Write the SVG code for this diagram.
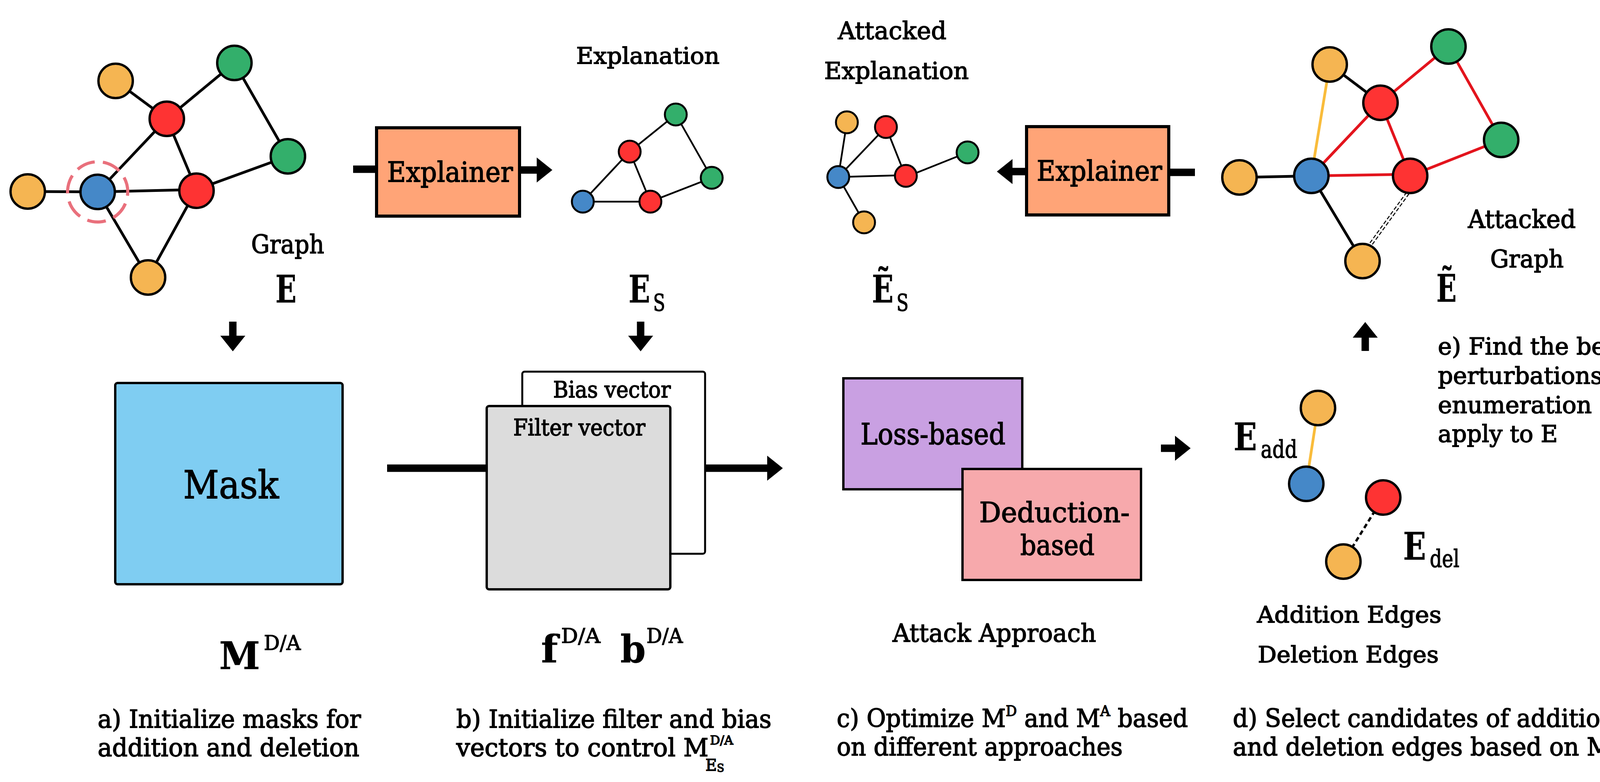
<svg xmlns="http://www.w3.org/2000/svg" width="4241" height="2001" viewBox="0 0 4241 2001">
<defs>
<style>
.t{font-family:"DejaVu Serif","Liberation Serif",serif;fill:#000;stroke:#000;stroke-width:1.8}
.m{font-weight:bold;stroke-width:0.5}
.r{font-weight:normal;stroke-width:1.6}
.n{stroke:#000;stroke-width:6}
.ns{stroke:#000;stroke-width:5}
.or{fill:#F5B552}.rd{fill:#FE3333}.gr{fill:#33AF6B}.bl{fill:#4588C8}
.e{stroke:#000;stroke-width:7;fill:none}
.es{stroke:#000;stroke-width:4.5;fill:none}
.er{stroke:#E3141D;stroke-width:7;fill:none}
.ey{stroke:#F9BC3B;stroke-width:7;fill:none}
.box{stroke:#000;stroke-width:8}
.bx{stroke:#000;stroke-width:6}
.ar{stroke:#000;stroke-width:19;fill:none}
</style>
<marker id="ah" markerUnits="userSpaceOnUse" markerWidth="40" markerHeight="64" refX="0" refY="32" orient="auto" viewBox="0 0 40 64">
<path d="M0,0 L40,32 L0,64 Z" fill="#000"/>
</marker>
</defs>
<rect width="4241" height="2001" fill="#fff"/>

<!-- Graph E -->
<g id="graph">
<line class="e" x1="71" y1="490" x2="250" y2="491"/>
<line class="e" x1="250" y1="491" x2="427" y2="304"/>
<line class="e" x1="250" y1="491" x2="503" y2="485"/>
<line class="e" x1="250" y1="491" x2="379" y2="710"/>
<line class="e" x1="296" y1="207" x2="427" y2="304"/>
<line class="e" x1="427" y1="304" x2="600" y2="161"/>
<line class="e" x1="427" y1="304" x2="503" y2="485"/>
<line class="e" x1="600" y1="161" x2="737" y2="400"/>
<line class="e" x1="737" y1="400" x2="503" y2="485"/>
<line class="e" x1="503" y1="485" x2="379" y2="710"/>
<circle cx="250" cy="491" r="77" fill="none" stroke="#E9707C" stroke-width="8" stroke-dasharray="48 21" transform="rotate(-80 250 491)"/>
<circle class="n or" cx="71" cy="490" r="44"/>
<circle class="n bl" cx="250" cy="491" r="44"/>
<circle class="n or" cx="296" cy="207" r="44"/>
<circle class="n rd" cx="427" cy="304" r="44"/>
<circle class="n gr" cx="600" cy="161" r="44"/>
<circle class="n gr" cx="737" cy="400" r="44"/>
<circle class="n rd" cx="503" cy="488" r="44"/>
<circle class="n or" cx="379" cy="710" r="44"/>
<text class="t" x="643" y="648" font-size="66" textLength="187" lengthAdjust="spacingAndGlyphs">Graph</text>
<text class="t m" x="705" y="774" font-size="97" textLength="54" lengthAdjust="spacingAndGlyphs">E</text>
</g>

<!-- Explainer 1 -->
<g id="explainer1">
<rect class="box" x="964" y="327" width="366" height="226" fill="#FFA477"/>
<text class="t" x="991" y="465" font-size="71" textLength="322" lengthAdjust="spacingAndGlyphs">Explainer</text>
</g>

<!-- Explanation -->
<g id="explanation">
<text class="t" x="1475" y="163" font-size="58" textLength="367" lengthAdjust="spacingAndGlyphs">Explanation</text>
<line class="es" x1="1730" y1="293" x2="1612" y2="388"/>
<line class="es" x1="1730" y1="293" x2="1822" y2="455"/>
<line class="es" x1="1612" y1="388" x2="1492" y2="516"/>
<line class="es" x1="1612" y1="388" x2="1665" y2="516"/>
<line class="es" x1="1492" y1="516" x2="1665" y2="516"/>
<line class="es" x1="1665" y1="516" x2="1822" y2="455"/>
<circle class="ns gr" cx="1730" cy="293" r="28"/>
<circle class="ns rd" cx="1612" cy="388" r="28"/>
<circle class="ns bl" cx="1492" cy="516" r="28"/>
<circle class="ns rd" cx="1665" cy="516" r="28"/>
<circle class="ns gr" cx="1822" cy="455" r="28"/>
<text class="t m" x="1609" y="774" font-size="97" textLength="94" lengthAdjust="spacingAndGlyphs">E<tspan class="r" font-size="60" dx="10" dy="22">S</tspan></text>
</g>

<!-- Attacked Explanation -->
<g id="attacked-explanation">
<text class="t" x="2145" y="100" font-size="62" textLength="278" lengthAdjust="spacingAndGlyphs">Attacked</text>
<text class="t" x="2110" y="202" font-size="60" textLength="370" lengthAdjust="spacingAndGlyphs">Explanation</text>
<line class="es" x1="2168" y1="313" x2="2146" y2="453"/>
<line class="es" x1="2268" y1="325" x2="2146" y2="453"/>
<line class="es" x1="2268" y1="325" x2="2319" y2="453"/>
<line class="es" x1="2146" y1="453" x2="2319" y2="448"/>
<line class="es" x1="2319" y1="453" x2="2477" y2="390"/>
<line class="es" x1="2146" y1="453" x2="2212" y2="569"/>
<circle class="ns or" cx="2168" cy="313" r="28"/>
<circle class="ns rd" cx="2268" cy="325" r="28"/>
<circle class="ns gr" cx="2477" cy="390" r="28"/>
<circle class="ns bl" cx="2146" cy="453" r="28"/>
<circle class="ns rd" cx="2319" cy="450" r="28"/>
<circle class="ns or" cx="2212" cy="569" r="28"/>
<text class="t m" x="2232" y="774" font-size="97" textLength="94" lengthAdjust="spacingAndGlyphs">Ẽ<tspan class="r" font-size="60" dx="10" dy="22">S</tspan></text>
</g>

<!-- Explainer 2 -->
<g id="explainer2">
<rect class="box" x="2628" y="324" width="364" height="226" fill="#FFA477"/>
<text class="t" x="2654" y="462" font-size="71" textLength="321" lengthAdjust="spacingAndGlyphs">Explainer</text>
</g>

<!-- Attacked graph -->
<g id="attacked-graph">
<line x1="3604" y1="494" x2="3509" y2="625" stroke="#000" stroke-width="2.5" stroke-dasharray="10 5" transform="translate(-3 -2)"/>
<line x1="3604" y1="494" x2="3509" y2="625" stroke="#000" stroke-width="2.5" stroke-dasharray="10 5" transform="translate(3 2)"/>
<line class="e" x1="3173" y1="454" x2="3357" y2="450"/>
<line class="e" x1="3357" y1="450" x2="3488" y2="668"/>
<line class="e" x1="3404" y1="165" x2="3534" y2="263"/>
<line class="ey" x1="3404" y1="165" x2="3357" y2="450"/>
<line class="er" x1="3534" y1="263" x2="3708" y2="119"/>
<line class="er" x1="3708" y1="119" x2="3843" y2="358"/>
<line class="er" x1="3534" y1="263" x2="3357" y2="450"/>
<line class="er" x1="3534" y1="263" x2="3610" y2="450"/>
<line class="er" x1="3357" y1="450" x2="3610" y2="446"/>
<line class="er" x1="3610" y1="450" x2="3843" y2="358"/>
<circle class="n or" cx="3173" cy="454" r="44"/>
<circle class="n bl" cx="3357" cy="450" r="44"/>
<circle class="n or" cx="3404" cy="165" r="44"/>
<circle class="n rd" cx="3534" cy="263" r="44"/>
<circle class="n gr" cx="3708" cy="119" r="44"/>
<circle class="n gr" cx="3843" cy="358" r="44"/>
<circle class="n rd" cx="3610" cy="450" r="44"/>
<circle class="n or" cx="3488" cy="668" r="44"/>
<text class="t" x="3758" y="583" font-size="63" textLength="276" lengthAdjust="spacingAndGlyphs">Attacked</text>
<text class="t" x="3815" y="684" font-size="62" textLength="188" lengthAdjust="spacingAndGlyphs">Graph</text>
<text class="t m" x="3677" y="772" font-size="97" textLength="52" lengthAdjust="spacingAndGlyphs">Ẽ</text>
</g>

<!-- Mask -->
<g id="mask">
<rect class="bx" x="295" y="980" width="582" height="515" rx="6" fill="#7FCDF2"/>
<text class="t" x="469" y="1275" font-size="100" textLength="245" lengthAdjust="spacingAndGlyphs">Mask</text>
<text class="t m" x="561" y="1712" font-size="97" textLength="209" lengthAdjust="spacingAndGlyphs">M<tspan class="r" font-size="52" dx="10" dy="-49">D/A</tspan></text>
</g>

<!-- Filter / Bias vectors -->
<g id="vectors">
<rect x="1337" y="951" width="468" height="466" rx="6" fill="#fff" stroke="#000" stroke-width="5"/>
<text class="t" x="1416" y="1017" font-size="58" textLength="301" lengthAdjust="spacingAndGlyphs">Bias vector</text>
<rect class="bx" x="1246" y="1039" width="470" height="469" rx="6" fill="#DCDCDC"/>
<text class="t" x="1314" y="1114" font-size="58" textLength="338" lengthAdjust="spacingAndGlyphs">Filter vector</text>
<text class="t m" x="1385" y="1695" font-size="97" textLength="152" lengthAdjust="spacingAndGlyphs">f<tspan class="r" font-size="52" dx="8" dy="-50">D/A</tspan></text>
<text class="t m" x="1588" y="1695" font-size="97" textLength="160" lengthAdjust="spacingAndGlyphs">b<tspan class="r" font-size="52" dx="2" dy="-50">D/A</tspan></text>
</g>

<!-- Attack approaches -->
<g id="approach">
<rect class="bx" x="2159" y="968" width="458" height="284" fill="#C9A0E2"/>
<text class="t" x="2203" y="1137" font-size="74" textLength="371" lengthAdjust="spacingAndGlyphs">Loss-based</text>
<rect class="bx" x="2464" y="1200" width="457" height="284" fill="#F7A9AC"/>
<text class="t" x="2507" y="1336" font-size="71" textLength="385" lengthAdjust="spacingAndGlyphs">Deduction-</text>
<text class="t" x="2612" y="1420" font-size="71" textLength="190" lengthAdjust="spacingAndGlyphs">based</text>
<text class="t" x="2285" y="1642" font-size="63" textLength="521" lengthAdjust="spacingAndGlyphs">Attack Approach</text>
</g>

<!-- Candidates -->
<g id="candidates">
<line class="ey" x1="3374" y1="1044" x2="3344" y2="1238" stroke-width="8"/>
<line x1="3541" y1="1273" x2="3439" y2="1437" stroke="#000" stroke-width="6" stroke-dasharray="12 8"/>
<circle class="n or" cx="3374" cy="1044" r="44"/>
<circle class="n bl" cx="3344" cy="1238" r="44"/>
<circle class="n rd" cx="3541" cy="1273" r="44"/>
<circle class="n or" cx="3439" cy="1437" r="44"/>
<text class="t m" x="3158" y="1152" font-size="98" textLength="163" lengthAdjust="spacingAndGlyphs">E<tspan class="r" font-size="62" dx="12" dy="19">add</tspan></text>
<text class="t m" x="3592" y="1432" font-size="98" textLength="144" lengthAdjust="spacingAndGlyphs">E<tspan class="r" font-size="62" dx="12" dy="19">del</tspan></text>
<text class="t" x="3218" y="1593" font-size="58" textLength="472" lengthAdjust="spacingAndGlyphs">Addition Edges</text>
<text class="t" x="3220" y="1695" font-size="58" textLength="463" lengthAdjust="spacingAndGlyphs">Deletion Edges</text>
</g>

<!-- Captions -->
<g id="captions">
<text class="t" x="250" y="1862" font-size="63" textLength="674" lengthAdjust="spacingAndGlyphs">a) Initialize masks for</text>
<text class="t" x="250" y="1935" font-size="63" textLength="670" lengthAdjust="spacingAndGlyphs">addition and deletion</text>
<text class="t" x="1168" y="1862" font-size="63" textLength="807" lengthAdjust="spacingAndGlyphs">b) Initialize filter and bias</text>
<text class="t" x="1168" y="1935" font-size="63" textLength="709" lengthAdjust="spacingAndGlyphs">vectors to control M<tspan font-size="32" dx="4" dy="-30">D/A</tspan></text>
<text class="t" x="1806" y="1972" font-size="41" textLength="48" lengthAdjust="spacingAndGlyphs">E<tspan font-size="28" dy="3">S</tspan></text>
<text class="t" x="2142" y="1860" font-size="63" textLength="899" lengthAdjust="spacingAndGlyphs">c) Optimize M<tspan font-size="37" dy="-28">D</tspan><tspan dy="28"> and M</tspan><tspan font-size="37" dy="-28">A</tspan><tspan dy="28"> based</tspan></text>
<text class="t" x="2142" y="1933" font-size="63" textLength="732" lengthAdjust="spacingAndGlyphs">on different approaches</text>
<text class="t" x="3156" y="1860" font-size="63" textLength="980" lengthAdjust="spacingAndGlyphs">d) Select candidates of addition</text>
<text class="t" x="3156" y="1933" font-size="63" textLength="1035" lengthAdjust="spacingAndGlyphs">and deletion edges based on M<tspan font-size="35" dx="3" dy="-37">D/A</tspan></text>
<text class="t" x="3681" y="907" font-size="60" textLength="484" lengthAdjust="spacingAndGlyphs">e) Find the best</text>
<text class="t" x="3681" y="982" font-size="60" textLength="514" lengthAdjust="spacingAndGlyphs">perturbations by</text>
<text class="t" x="3681" y="1057" font-size="60" textLength="528" lengthAdjust="spacingAndGlyphs">enumeration and</text>
<text class="t" x="3681" y="1131" font-size="60" textLength="307" lengthAdjust="spacingAndGlyphs">apply to E</text>
</g>

<!-- Connectors -->
<g id="connectors">
<line class="ar" x1="904" y1="433" x2="964" y2="433"/>
<line class="ar" x1="1330" y1="435" x2="1374" y2="435" marker-end="url(#ah)"/>
<line class="ar" x1="3059" y1="441" x2="2992" y2="441"/>
<line class="ar" x1="2628" y1="439" x2="2592" y2="439" marker-end="url(#ah)"/>
<line class="ar" x1="596" y1="823" x2="596" y2="859" stroke-width="20" marker-end="url(#ah)"/>
<line class="ar" x1="1640" y1="823" x2="1640" y2="859" stroke-width="20" marker-end="url(#ah)"/>
<line class="ar" x1="3495" y1="898" x2="3495" y2="864" stroke-width="20" marker-end="url(#ah)"/>
<line class="ar" x1="991" y1="1198" x2="1246" y2="1198" stroke-width="18"/>
<line class="ar" x1="1805" y1="1198" x2="1964" y2="1198" stroke-width="18" marker-end="url(#ah)"/>
<line class="ar" x1="2972" y1="1147" x2="3008" y2="1147" stroke-width="18" marker-end="url(#ah)"/>
</g>
</svg>
